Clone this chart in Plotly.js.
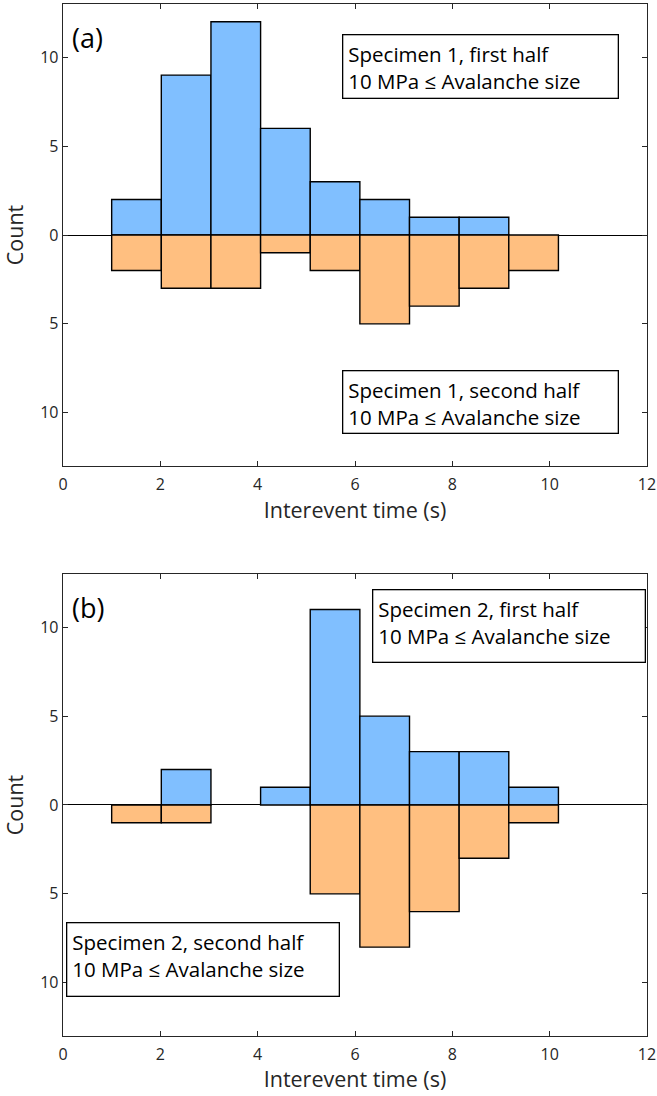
<!DOCTYPE html>
<html>
<head>
<meta charset="utf-8">
<script src="https://cdn.plot.ly/plotly-3.0.1.min.js"></script>
<style>html,body{margin:0;padding:0;background:#fff;}#chart{width:657px;height:1096px;}</style>
</head>
<body>
<div id="chart"></div>
<script>
// Left bin edges (s) and bin width
const binEdges = [1.00, 2.02, 3.04, 4.06, 5.08, 6.10, 7.12, 8.14, 9.16];
const binWidth = 1.02;

// Panel (a): Specimen 1
const spec1First  = [2, 9, 12, 6, 3, 2, 1, 1, 0];
const spec1Second = [2, 3, 3, 1, 2, 5, 4, 3, 2];

// Panel (b): Specimen 2
const spec2First  = [0, 2, 0, 1, 11, 5, 3, 3, 1];
const spec2Second = [1, 1, 0, 0, 5, 8, 6, 3, 1];

const xTickVals = [0, 2, 4, 6, 8, 10, 12];
const yTickVals = [-10, -5, 0, 5, 10];
const yTickText = ['10', '5', '0', '5', '10'];

const panelLabels = ['(a)', '(b)'];
const boxTexts = [
  'Specimen 1, first half<br>10 MPa \u2264 Avalanche size',
  'Specimen 1, second half<br>10 MPa \u2264 Avalanche size',
  'Specimen 2, first half<br>10 MPa \u2264 Avalanche size',
  'Specimen 2, second half<br>10 MPa \u2264 Avalanche size'
];

const BLUE = '#80BFFF', ORANGE = '#FFBF80';
const FONT = 'Open Sans, DejaVu Sans, sans-serif';
const TXT = '#262626';

function bars(vals, sign, color, xa, ya) {
  return {
    type: 'bar',
    x: binEdges,
    y: vals.map(v => v === 0 ? null : sign * v),
    width: binWidth,
    offset: 0,
    xaxis: xa, yaxis: ya,
    marker: {color: color, line: {color: '#000', width: 1.4}},
    hoverinfo: 'skip',
    showlegend: false
  };
}

const data = [
  bars(spec1First, 1, BLUE, 'x', 'y'),
  bars(spec1Second, -1, ORANGE, 'x', 'y'),
  bars(spec2First, 1, BLUE, 'x2', 'y2'),
  bars(spec2Second, -1, ORANGE, 'x2', 'y2')
];

function xax(anchor) {
  return {
    anchor: anchor, domain: [0, 1], range: [0, 12],
    tickvals: xTickVals, ticks: 'inside', ticklen: 5, tickcolor: TXT,
    showline: true, linecolor: TXT, linewidth: 1.3, mirror: 'ticks',
    showgrid: false, zeroline: false,
    tickfont: {family: FONT, size: 16, color: TXT},
    ticklabelstandoff: 3,
    title: {text: 'Interevent time (s)', font: {family: FONT, size: 21.5, color: TXT}, standoff: 4}
  };
}
function yax(anchor, domain) {
  return {
    anchor: anchor, domain: domain, range: [-13, 13],
    tickvals: yTickVals, ticktext: yTickText, ticks: 'inside', ticklen: 5, tickcolor: TXT,
    showline: true, linecolor: TXT, linewidth: 1.3, mirror: 'ticks',
    showgrid: false, zeroline: true, zerolinecolor: '#000', zerolinewidth: 1,
    tickfont: {family: FONT, size: 16, color: TXT},
    title: {text: 'Count', font: {family: FONT, size: 21.5, color: TXT}, standoff: 10}
  };
}

function box(text, xref, yref, x, y, w, h) {
  return {
    text: text, xref: xref, yref: yref, x: x, y: y,
    xanchor: 'left', yanchor: 'top', align: 'left', valign: 'top',
    showarrow: false, width: w, height: h,
    bordercolor: '#000', borderwidth: 1.3, borderpad: 5, bgcolor: '#fff',
    font: {family: FONT, size: 20.5, color: '#000'}
  };
}
function label(text, xref, yref, x, y) {
  return {
    text: text, xref: xref, yref: yref, x: x, y: y,
    xanchor: 'left', yanchor: 'middle', showarrow: false,
    font: {family: FONT, size: 27, color: '#000'}
  };
}

const layout = {
  width: 657, height: 1096,
  margin: {l: 63, r: 10, t: 4, b: 60},
  paper_bgcolor: '#fff', plot_bgcolor: '#fff',
  barmode: 'overlay',
  xaxis: xax('y'),
  yaxis: yax('x', [0.5523, 1]),
  xaxis2: xax('y2'),
  yaxis2: yax('x2', [0, 0.4477]),
  annotations: [
    label(panelLabels[0], 'x', 'y', 0.14, 11.12),
    label(panelLabels[1], 'x2', 'y2', 0.14, 11.09),
    box(boxTexts[0], 'x', 'y', 5.74, 11.29, 264, 52),
    box(boxTexts[1], 'x', 'y', 5.74, -7.59, 264, 51),
    box(boxTexts[2], 'x2', 'y2', 6.35, 12.13, 261, 61),
    box(boxTexts[3], 'x2', 'y2', 0.06, -6.56, 261, 62)
  ]
};

Plotly.newPlot('chart', data, layout, {displayModeBar: false, staticPlot: true});
</script>
</body>
</html>
